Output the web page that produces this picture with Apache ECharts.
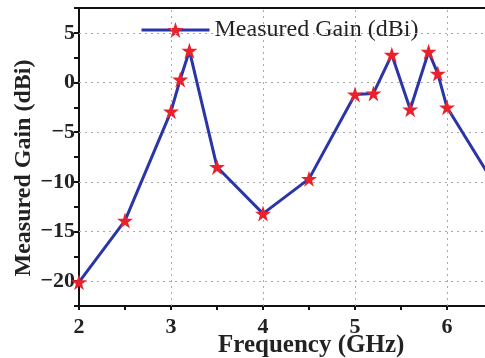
<!DOCTYPE html>
<html>
<head>
<meta charset="utf-8">
<script src="https://cdn.jsdelivr.net/npm/echarts@6/dist/echarts.min.js"></script>
<style>
  html, body { margin: 0; padding: 0; background: #fff; }
  #chart { width: 485px; height: 358px; }
</style>
</head>
<body>
<div id="chart"></div>
<script>
const freq = [2, 2.5, 3, 3.1, 3.2, 3.5, 4, 4.5, 5, 5.2, 5.4, 5.6, 5.8, 5.9, 6, 6.5];
const gain = [-20.1, -13.9, -2.9, 0.3, 3.2, -8.5, -13.2, -9.7, -1.2, -1.1, 2.8, -2.7, 3.1, 0.9, -2.5, -10];
const yGrid = [5, 0, -5, -10, -15, -20];
const xGrid = [3, 4, 5, 6];
const seriesName = "Measured Gain (dBi)";

const serif = "Liberation Serif";
const chart = echarts.init(document.getElementById("chart"));

// dotted grid like the Origin plot
const gridStyle = { color: "#a8a8a8", type: [2, 4], width: 1 };
const star = "path://M12,0 L14.9,8.6 L24,8.6 L16.6,14 L19.4,22.6 L12,17.2 L4.6,22.6 L7.4,14 L0,8.6 L9.1,8.6 Z";

chart.setOption({
  animation: false,
  grid: { left: 79, top: 8, width: 414, height: 298, containLabel: false, outerBoundsMode: "none" },
  legend: {
    data: [seriesName],
    left: 138, top: 17,
    itemWidth: 68, itemHeight: 20, itemGap: 6,
    lineStyle: { width: 3 },
    textStyle: { fontFamily: serif, fontSize: 24, color: "#222" },
    backgroundColor: "#fff",
    padding: [1, 2]
  },
  xAxis: {
    type: "value", min: 2, max: 6.5, interval: 0.5,
    axisLine: { show: true, onZero: false, lineStyle: { color: "#111", width: 2 } },
    axisTick: { show: true, length: 4, lineStyle: { color: "#111", width: 2 } },
    axisLabel: {
      fontFamily: serif, fontWeight: "bold", fontSize: 22, color: "#222", margin: 10,
      formatter: (v) => (Number.isInteger(v) ? String(v) : "")
    },
    splitLine: { show: false }
  },
  yAxis: {
    type: "value", min: -22.5, max: 7.5, interval: 2.5,
    axisLine: { show: true, lineStyle: { color: "#111", width: 2 } },
    axisTick: { show: true, length: 5, lineStyle: { color: "#111", width: 2 } },
    axisLabel: {
      fontFamily: serif, fontWeight: "bold", fontSize: 22, color: "#222", margin: 4,
      formatter: (v) => (v % 5 === 0 ? String(v).replace("-", "\u2212") : "")
    },
    splitLine: { show: false }
  },
  graphic: [
    {
      type: "line", shape: { x1: 79, y1: 8, x2: 485, y2: 8 },
      style: { stroke: "#111", lineWidth: 2 }, z: 10
    },
    {
      type: "text", left: 218, top: 333, z: 10,
      style: { text: "Frequency (GHz)", font: "bold 25px 'Liberation Serif'", fill: "#222" }
    },
    {
      type: "text", x: 24, y: 168, rotation: Math.PI / 2, z: 10,
      style: {
        text: "Measured Gain (dBi)", font: "bold 24px 'Liberation Serif'", fill: "#222",
        align: "center", verticalAlign: "middle"
      }
    }
  ],
  series: [
    {
      type: "line", name: seriesName,
      data: freq.map((f, i) => [f, gain[i]]),
      symbol: star, symbolSize: 16, showSymbol: true,
      lineStyle: { color: "#2a35a8", width: 3 },
      itemStyle: { color: "#e8222a", borderWidth: 0 },
      markLine: {
        silent: true, symbol: ["none", "none"], label: { show: false },
        lineStyle: gridStyle, animation: false,
        data: yGrid.map((v) => ({ yAxis: v })).concat(xGrid.map((v) => ({ xAxis: v })))
      },
      z: 5
    }
  ]
});
</script>
</body>
</html>
